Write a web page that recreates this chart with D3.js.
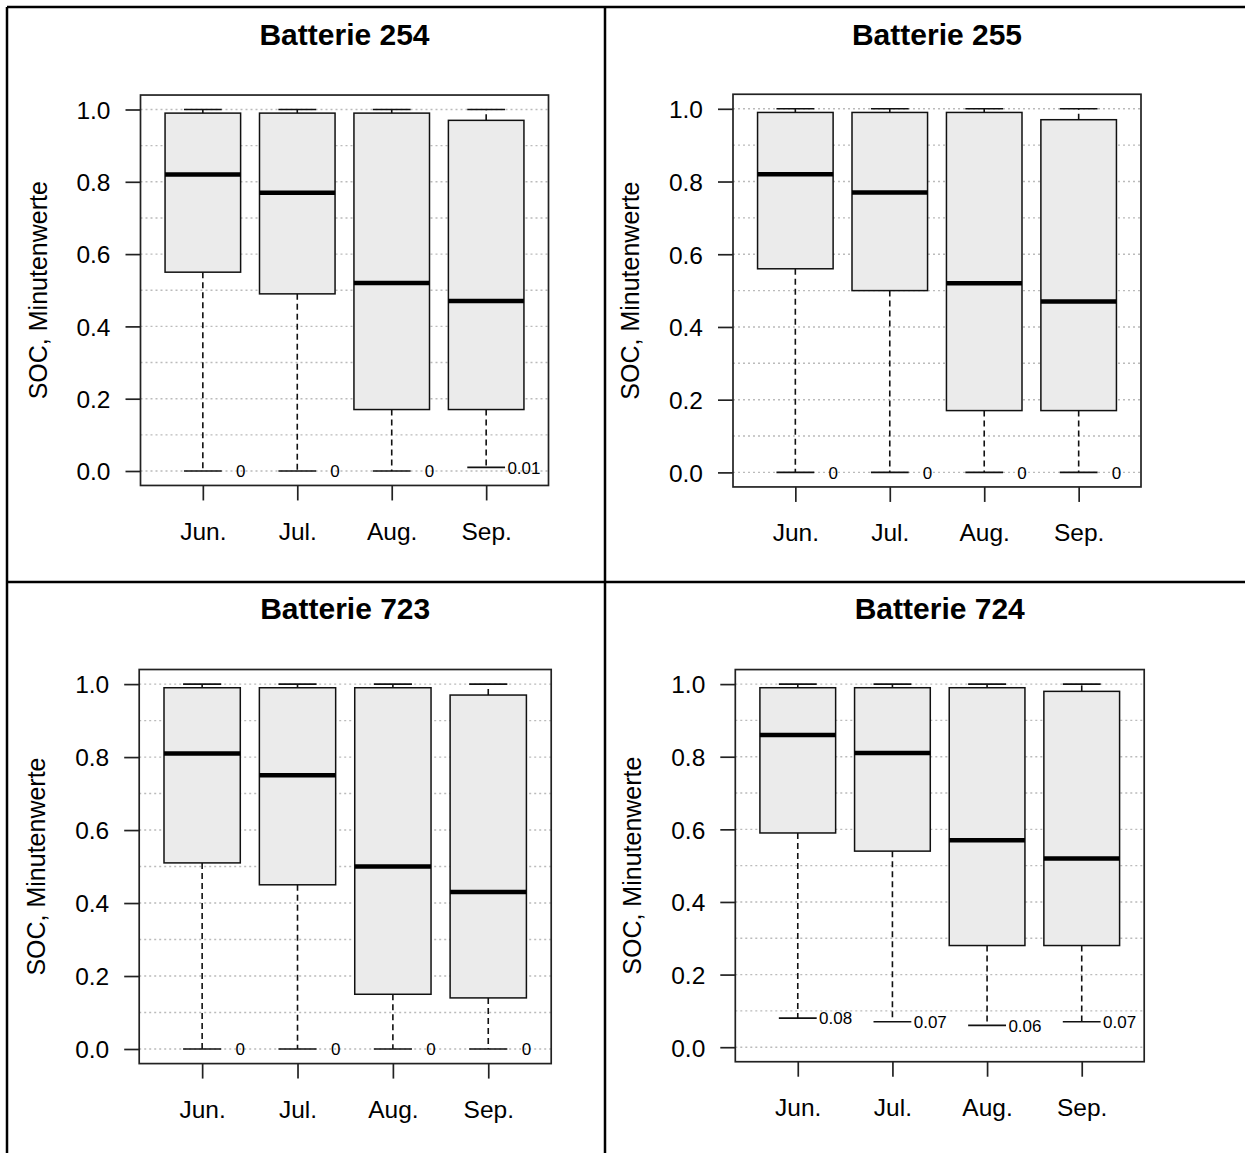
<!DOCTYPE html>
<html>
<head>
<meta charset="utf-8">
<script src="https://cdn.jsdelivr.net/npm/d3@7"></script>
<style>
  body { margin: 0; background: #ffffff; }
  svg { display: block; font-family: "Liberation Sans", Arial, sans-serif; }
</style>
</head>
<body>
<script>
// ---------------- data ----------------
const months = ["Jun.", "Jul.", "Aug.", "Sep."];
const batteries = ["Batterie 254", "Batterie 255", "Batterie 723", "Batterie 724"];
const yTickValues = [0, 0.2, 0.4, 0.6, 0.8, 1.0];
const gridValues = [0, 0.1, 0.2, 0.3, 0.4, 0.5, 0.6, 0.7, 0.8, 0.9, 1.0];
const yAxisTitle = "SOC, Minutenwerte";

// one row per battery, one value per month
const maxValues = [
  [1.0, 1.0, 1.0, 1.0],
  [1.0, 1.0, 1.0, 1.0],
  [1.0, 1.0, 1.0, 1.0],
  [1.0, 1.0, 1.0, 1.0]
];
const q3Values = [
  [0.99, 0.99, 0.99, 0.97],
  [0.99, 0.99, 0.99, 0.97],
  [0.99, 0.99, 0.99, 0.97],
  [0.99, 0.99, 0.99, 0.98]
];
const medianValues = [
  [0.82, 0.77, 0.52, 0.47],
  [0.82, 0.77, 0.52, 0.47],
  [0.81, 0.75, 0.50, 0.43],
  [0.86, 0.81, 0.57, 0.52]
];
const q1Values = [
  [0.55, 0.49, 0.17, 0.17],
  [0.56, 0.50, 0.17, 0.17],
  [0.51, 0.45, 0.15, 0.14],
  [0.59, 0.54, 0.28, 0.28]
];
const minValues = [
  [0, 0, 0, 0.01],
  [0, 0, 0, 0],
  [0, 0, 0, 0],
  [0.08, 0.07, 0.06, 0.07]
];
const minLabels = [
  ["0", "0", "0", "0.01"],
  ["0", "0", "0", "0"],
  ["0", "0", "0", "0"],
  ["0.08", "0.07", "0.06", "0.07"]
];

// ---------------- layout ----------------
const W = 1245, H = 1153;
const panels = [
  { x0: 140.5, x1: 548.5, y0: 471.0, y1: 109.5, titleY: 44.5 },
  { x0: 733.0, x1: 1141.0, y0: 472.4, y1: 108.8, titleY: 44.5 },
  { x0: 139.2, x1: 551.2, y0: 1049.0, y1: 684.1, titleY: 619 },
  { x0: 735.3, x1: 1144.2, y0: 1047.2, y1: 684.1, titleY: 619 }
];
const ink = "#111";

const svg = d3.select("body").append("svg")
  .attr("width", W).attr("height", H);

// table borders
const border = svg.append("g").attr("stroke", "#000").attr("stroke-width", 2.5);
border.append("line").attr("x1", 7).attr("x2", W).attr("y1", 7).attr("y2", 7);
border.append("line").attr("x1", 7).attr("x2", 7).attr("y1", 7).attr("y2", H);
border.append("line").attr("x1", 605).attr("x2", 605).attr("y1", 7).attr("y2", H);
border.append("line").attr("x1", 7).attr("x2", W).attr("y1", 582).attr("y2", 582);

panels.forEach((L, p) => {
  const g = svg.append("g");
  const x = d3.scaleLinear().domain([0.34, 4.66]).range([L.x0, L.x1]);
  const y = d3.scaleLinear().domain([0, 1]).range([L.y0, L.y1]);
  const top = y(1.04), bottom = y(-0.04);
  const idx = months.map((m, i) => i + 1);

  // grid
  g.append("g").selectAll("line").data(gridValues).join("line")
    .attr("x1", L.x0).attr("x2", L.x1)
    .attr("y1", d => y(d)).attr("y2", d => y(d))
    .attr("stroke", "#bbbbbb").attr("stroke-width", 1.4)
    .attr("stroke-dasharray", "2,3");

  const boxes = g.append("g").selectAll("g").data(idx).join("g");

  // whiskers (dashed)
  boxes.append("line")
    .attr("x1", d => x(d)).attr("x2", d => x(d))
    .attr("y1", d => y(q1Values[p][d - 1])).attr("y2", d => y(minValues[p][d - 1]))
    .attr("stroke", ink).attr("stroke-width", 1.6).attr("stroke-dasharray", "6,4");
  boxes.append("line")
    .attr("x1", d => x(d)).attr("x2", d => x(d))
    .attr("y1", d => y(q3Values[p][d - 1])).attr("y2", d => y(maxValues[p][d - 1]))
    .attr("stroke", ink).attr("stroke-width", 1.6).attr("stroke-dasharray", "6,4");
  // staples
  boxes.append("line")
    .attr("x1", d => x(d - 0.2)).attr("x2", d => x(d + 0.2))
    .attr("y1", d => y(minValues[p][d - 1])).attr("y2", d => y(minValues[p][d - 1]))
    .attr("stroke", ink).attr("stroke-width", 1.6);
  boxes.append("line")
    .attr("x1", d => x(d - 0.2)).attr("x2", d => x(d + 0.2))
    .attr("y1", d => y(maxValues[p][d - 1])).attr("y2", d => y(maxValues[p][d - 1]))
    .attr("stroke", ink).attr("stroke-width", 1.6);
  // boxes
  boxes.append("rect")
    .attr("x", d => x(d - 0.4))
    .attr("width", d => x(d + 0.4) - x(d - 0.4))
    .attr("y", d => y(q3Values[p][d - 1]))
    .attr("height", d => y(q1Values[p][d - 1]) - y(q3Values[p][d - 1]))
    .attr("fill", "#ebebeb").attr("stroke", ink).attr("stroke-width", 1.5);
  // medians
  boxes.append("line")
    .attr("x1", d => x(d - 0.4)).attr("x2", d => x(d + 0.4))
    .attr("y1", d => y(medianValues[p][d - 1])).attr("y2", d => y(medianValues[p][d - 1]))
    .attr("stroke", "#000").attr("stroke-width", 4.5);
  // min labels
  boxes.append("text")
    .attr("x", d => x(d + 0.4)).attr("y", d => y(minValues[p][d - 1]))
    .attr("dy", "0.36em").attr("text-anchor", "middle")
    .attr("font-size", 17).attr("fill", "#000")
    .text(d => minLabels[p][d - 1]);

  // frame
  g.append("rect")
    .attr("x", L.x0).attr("y", top)
    .attr("width", L.x1 - L.x0).attr("height", bottom - top)
    .attr("fill", "none").attr("stroke", "#222").attr("stroke-width", 1.7);

  // y axis
  const ya = g.append("g").attr("transform", `translate(${L.x0},0)`)
    .call(d3.axisLeft(y).tickValues(yTickValues).tickFormat(d3.format(".1f"))
      .tickSize(15).tickPadding(15));
  ya.select(".domain").remove();
  ya.selectAll(".tick line").attr("stroke", "#222").attr("stroke-width", 1.7);
  ya.selectAll(".tick text").attr("font-size", 24.5).attr("fill", "#000")
    .attr("font-family", "Liberation Sans, Arial, sans-serif").attr("dy", "0.36em");

  // x axis
  const xa = g.append("g").attr("transform", `translate(0,${bottom})`)
    .call(d3.axisBottom(x).tickValues(idx).tickFormat(d => months[d - 1])
      .tickSize(15).tickPadding(22));
  xa.select(".domain").remove();
  xa.selectAll(".tick line").attr("stroke", "#222").attr("stroke-width", 1.7);
  xa.selectAll(".tick text").attr("font-size", 24.5).attr("fill", "#000")
    .attr("font-family", "Liberation Sans, Arial, sans-serif");

  // y-axis title
  const cy = (top + bottom) / 2;
  const cx = L.x0 - 103 + 9;
  g.append("text")
    .attr("transform", `translate(${cx},${cy}) rotate(-90)`)
    .attr("text-anchor", "middle").attr("font-size", 25).attr("fill", "#000")
    .text(yAxisTitle);

  // title
  g.append("text")
    .attr("x", (L.x0 + L.x1) / 2).attr("y", L.titleY)
    .attr("text-anchor", "middle").attr("font-size", 30).attr("font-weight", "bold")
    .attr("fill", "#000")
    .text(batteries[p]);
});
</script>
</body>
</html>
